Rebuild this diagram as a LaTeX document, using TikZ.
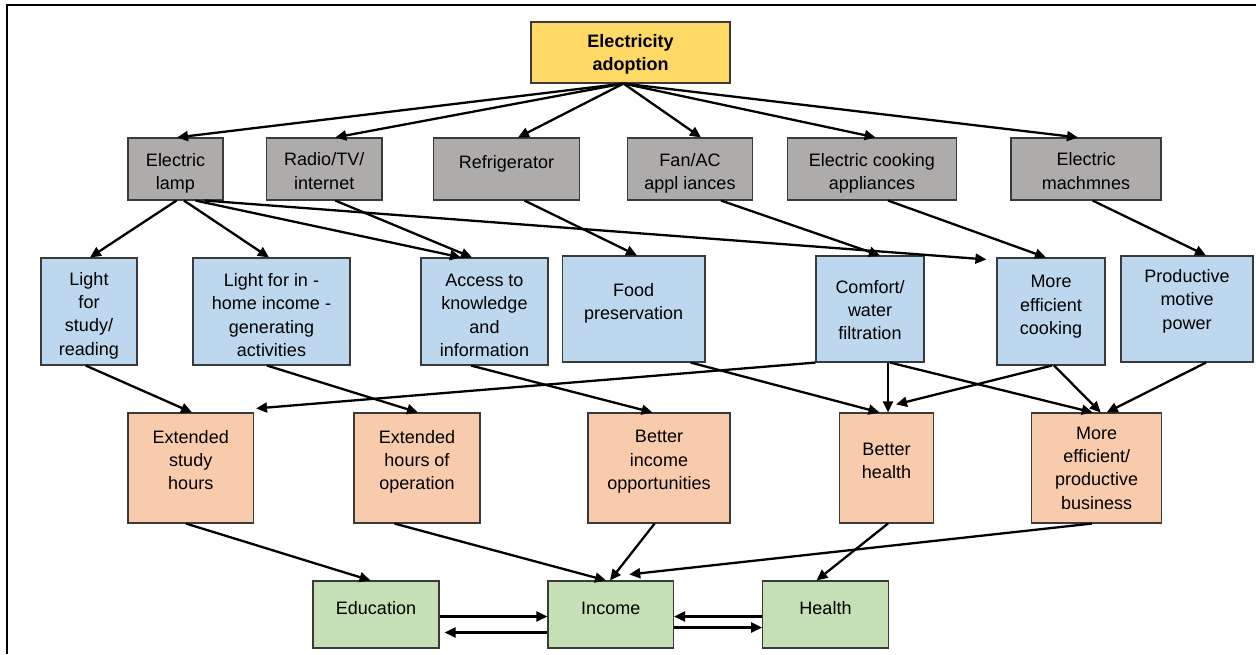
\documentclass[tikz,border=0pt]{standalone}
\usepackage{fontspec}
\setmainfont{Liberation Sans}
\usetikzlibrary{arrows.meta}
\definecolor{cyel}{HTML}{FFD966}
\definecolor{cgrey}{HTML}{AEABAB}
\definecolor{cblue}{HTML}{BDD7EE}
\definecolor{corange}{HTML}{F8CBAD}
\definecolor{cgreen}{HTML}{C5E0B4}
\definecolor{cedge}{HTML}{3A3A3A}
\newcommand\upby[1]{\\[#1]\mbox{}}
\newcommand\dnby[1]{\rule{0pt}{#1}}
\begin{document}
\begin{tikzpicture}[x=1pt,y=-1pt,
  nbox/.style={draw=cedge, line width=1.1pt, inner sep=0pt, align=center,
    font=\fontsize{18}{23.3}\selectfont},
  topbox/.style={nbox, fill=cyel, font=\fontsize{18}{23.3}\selectfont\bfseries},
  greybox/.style={nbox, fill=cgrey},
  bluebox/.style={nbox, fill=cblue},
  orbox/.style={nbox, fill=corange},
  grbox/.style={nbox, fill=cgreen},
  arr/.style={line width=2.3pt, -{Triangle[length=11pt,width=10pt]}}]
\useasboundingbox (0,0) rectangle (1256,654);
\draw[line width=2pt] (6.5,654) -- (6.5,5) -- (1256,5);

% top
\node[topbox, minimum width=199pt, minimum height=61pt] (top) at (630.5,52.5) {\dnby{17.1pt}Electricity\\adoption};

% grey row
\node[greybox, minimum width=95pt, minimum height=62pt] (lamp) at (175.5,169) {\dnby{21.1pt}Electric\\lamp};
\node[greybox, minimum width=115.5pt, minimum height=62pt] (radio) at (324.25,169) {\dnby{17.1pt}Radio/TV/\\internet};
\node[greybox, minimum width=146pt, minimum height=62pt] (fridge) at (506.5,169) {Refrigerator\upby{-9pt}};
\node[greybox, minimum width=125.4pt, minimum height=62pt] (fan) at (690,169) {\dnby{21.1pt}Fan/AC\\appl iances};
\node[greybox, minimum width=169pt, minimum height=62pt] (cook) at (872,169) {\dnby{21.1pt}Electric cooking\\appliances};
\node[greybox, minimum width=150pt, minimum height=62pt] (mach) at (1086,169) {\dnby{17.1pt}Electric\\machmnes};

% blue row
\node[bluebox, minimum width=96pt, minimum height=107pt] (study) at (89,311.5) {\dnby{21.1pt}Light\\for\\study/\\reading};
\node[bluebox, minimum width=157pt, minimum height=107pt] (inhome) at (271.5,311.5) {\dnby{20.1pt}Light for in -\\home income -\\generating\\activities};
\node[bluebox, minimum width=127pt, minimum height=107pt] (access) at (484.5,311.5) {\dnby{20.1pt}Access to\\knowledge\\and\\information};
\node[bluebox, minimum width=142.6pt, minimum height=106pt] (food) at (633.7,309) {Food\\preservation\upby{-8pt}};
\node[bluebox, minimum width=108pt, minimum height=106pt] (comfort) at (870,309) {\dnby{15.1pt}Comfort/\\water\\filtration};
\node[bluebox, minimum width=108pt, minimum height=107pt] (effcook) at (1051,311.5) {More\\efficient\\cooking\upby{-10pt}};
\node[bluebox, minimum width=132pt, minimum height=106pt] (motive) at (1187,309) {Productive\\motive\\power\upby{-4pt}};

% orange row
\node[orbox, minimum width=125.5pt, minimum height=110pt] (exstudy) at (190.75,468) {Extended\\study\\hours\upby{-7pt}};
\node[orbox, minimum width=126pt, minimum height=110pt] (exhours) at (417,468) {Extended\\hours of\\operation\upby{-7pt}};
\node[orbox, minimum width=142pt, minimum height=110pt] (betinc) at (659,468) {Better\\income\\opportunities\upby{-7pt}};
\node[orbox, minimum width=94pt, minimum height=110pt] (bethealth) at (886.5,468) {Better\\health\upby{-9pt}};
\node[orbox, minimum width=129.8pt, minimum height=110pt] (business) at (1096.7,468) {More\\efficient/\\productive\\business};

% green row
\node[grbox, minimum width=126pt, minimum height=67pt] (edu) at (376,614.5) {Education\upby{-10pt}};
\node[grbox, minimum width=125.5pt, minimum height=67pt] (income) at (610.75,614.5) {Income\upby{-10pt}};
\node[grbox, minimum width=125.5pt, minimum height=67pt] (health) at (825.5,614.5) {Health\upby{-10pt}};

% top -> grey
\draw[arr] ([xshift=-7pt]top.south) -- ([xshift=1.5pt]lamp.north);
\draw[arr] ([xshift=-7pt]top.south) -- ([xshift=11pt]radio.north);
\draw[arr] ([xshift=-7pt]top.south) -- ([xshift=11.5pt]fridge.north);
\draw[arr] ([xshift=-7pt]top.south) -- ([xshift=11pt]fan.north);
\draw[arr] ([xshift=-7pt]top.south) -- ([xshift=3.6pt]cook.north);
\draw[arr] ([xshift=-7pt]top.south) -- ([xshift=-8pt]mach.north);

% grey -> blue
\draw[arr] ([xshift=1pt]lamp.south) -- ([xshift=1pt]study.north);
\draw[arr] ([xshift=8.5pt]lamp.south) -- ([xshift=-2.5pt]inhome.north);
\draw[arr] ([xshift=20pt]lamp.south) -- ([xshift=-23.5pt]access.north);
\draw[arr] ([xshift=29.5pt]lamp.south) -- ([xshift=-10pt,yshift=-2pt]effcook.north west);
\draw[arr] ([xshift=11pt]radio.south) -- ([xshift=-12.5pt]access.north);
\draw[arr] ([xshift=18pt]fridge.south) -- ([xshift=3.3pt]food.north);
\draw[arr] ([xshift=31pt]fan.south) -- ([xshift=10pt]comfort.north);
\draw[arr] ([xshift=16pt]cook.south) -- ([xshift=-5pt]effcook.north);
\draw[arr] ([xshift=6.6pt]mach.south) -- ([xshift=19pt]motive.north);

% blue -> orange
\draw[arr] ([xshift=-3.3pt]study.south) -- ([xshift=1.25pt]exstudy.north);
\draw[arr] ([xshift=-4.5pt]inhome.south) -- ([xshift=1pt]exhours.north);
\draw[arr] ([xshift=-13.5pt]access.south) -- ([xshift=-6.5pt]betinc.north);
\draw[arr] (comfort.south west) -- ([xshift=2pt,yshift=4pt]exstudy.north east);
\draw[arr] ([xshift=57pt]food.south) -- ([xshift=-7pt]bethealth.north);
\draw[arr] ([xshift=18pt]comfort.south) -- ([xshift=1.5pt]bethealth.north);
\draw[arr] ([xshift=20pt]comfort.south) -- ([xshift=-4pt]business.north);
\draw[arr] ([xshift=1pt]effcook.south) -- ([xshift=9.5pt,yshift=8pt]bethealth.north);
\draw[arr] ([xshift=3pt]effcook.south) -- ([xshift=4pt]business.north);
\draw[arr] ([xshift=19pt]motive.south) -- ([xshift=10pt]business.north);

% orange -> green
\draw[arr] ([xshift=-4.75pt]exstudy.south) -- ([xshift=-5.5pt]edu.north);
\draw[arr] ([xshift=-22.5pt]exhours.south) -- ([xshift=-4.75pt]income.north);
\draw[arr] ([xshift=-4.4pt]betinc.south) -- ([xshift=-0.75pt]income.north);
\draw[arr] ([xshift=-4.7pt]business.south) -- ([xshift=18.5pt,yshift=6pt]income.north);
\draw[arr] ([xshift=1.5pt]bethealth.south) -- ([xshift=-9pt]health.north);

% green horizontals
\draw[arr] ([yshift=-2pt]edu.east) -- ([yshift=-2pt]income.west);
\draw[arr] ([yshift=-18pt]income.west) -- ([xshift=5pt,yshift=-18pt]edu.east);
\draw[arr] ([yshift=-2pt]health.west) -- ([yshift=-2pt]income.east);
\draw[arr] ([yshift=-13pt]income.east) -- ([yshift=-13pt]health.west);
\end{tikzpicture}
\end{document}
